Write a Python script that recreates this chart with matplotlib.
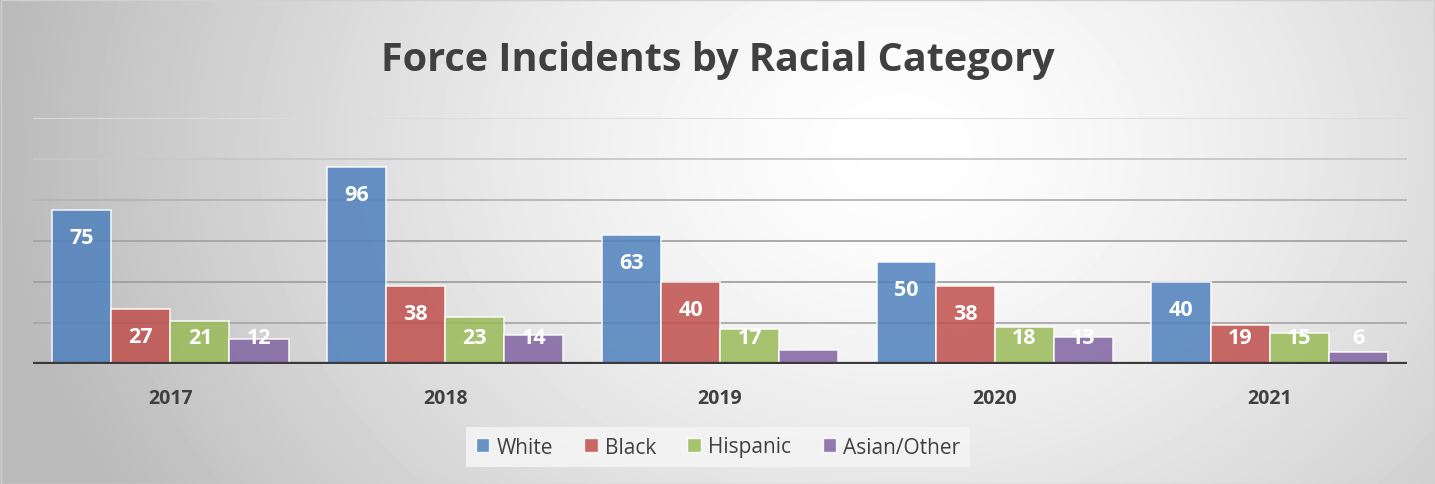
#!/usr/bin/env python3
import numpy as np
import matplotlib
matplotlib.use('Agg')
import matplotlib.pyplot as plt
from matplotlib.patches import Patch


YEARS = ['2017', '2018', '2019', '2020', '2021']
WHITE = [75, 96, 63, 50, 40]
BLACK = [27, 38, 40, 38, 19]
HISPANIC = [21, 23, 17, 18, 15]
ASIAN_OTHER = [12, 14, 7, 13, 6]
SHOW_LABEL = [[True] * 5, [True] * 5, [True] * 5, [True, True, False, True, True]]

SERIES = ['White', 'Black', 'Hispanic', 'Asian/Other']
COLORS = ['#4F81BD', '#C0504D', '#9BBB59', '#8064A2']
TEXT = '#404040'

plt.rcParams['font.family'] = ['Open Sans', 'DejaVu Sans']


def background(fig):
    bg = fig.add_axes([0, 0, 1, 1], zorder=-10)
    h, w = 485, 1435
    yy, xx = np.mgrid[0:h, 0:w]
    r = np.sqrt(((xx - 900) / 900.0) ** 2 + ((yy - 150) / 700.0) ** 2)
    val = 1.0 - 0.27 * np.clip(r, 0, 1) ** 1.4
    bg.imshow(val, cmap='gray', vmin=0, vmax=1, aspect='auto', extent=(0, 1, 0, 1))
    bg.add_patch(plt.Rectangle((0.0005, 0.001), 0.999, 0.997, fill=False,
                               edgecolor='#d0d0d0', lw=1, transform=bg.transAxes))
    bg.axis('off')


def main():
    fig = plt.figure(figsize=(14.35, 4.85), dpi=100)
    background(fig)

    ax = fig.add_axes([33 / 1435, 1 - 365 / 485, (1407 - 33) / 1435, (365 - 119) / 485])
    ax.set_facecolor('none')
    for s in ax.spines.values():
        s.set_visible(False)

    values = [WHITE, BLACK, HISPANIC, ASIAN_OTHER]
    x = np.arange(len(YEARS))
    width = 0.215
    offsets = (np.arange(4) - 1.5) * width

    grid_colors = ['#a8a8a8', '#a0a0a0', '#a4a4a4', '#b4b4b4', '#c8c8c8', '#dcdcdc']
    for gy, gc in zip(range(20, 121, 20), grid_colors):
        ax.axhline(gy, color=gc, lw=1.3, zorder=1)

    for i, (vals, color) in enumerate(zip(values, COLORS)):
        ax.bar(x + offsets[i], vals, width, color=color, alpha=0.85,
               edgecolor=(1, 1, 1, 0.45), lw=1.2, zorder=2, label=SERIES[i])
        for j, v in enumerate(vals):
            if SHOW_LABEL[i][j]:
                ax.text(x[j] + offsets[i], max(v - 13.5, 13), str(v), ha='center', va='center',
                        color='white', fontsize=15.5, fontweight='bold', zorder=3)

    ax.axhline(0, color='#3a3a3a', lw=3.8, zorder=4)
    ax.set_xlim(-0.5, len(YEARS) - 0.5)
    ax.set_ylim(0, 120)
    ax.set_yticks([])
    ax.set_xticks(x)
    ax.set_xticklabels(YEARS, fontsize=14, fontweight='bold', color=TEXT)
    ax.tick_params(axis='x', length=0, pad=17)

    fig.text(718 / 1435, 1 - 60 / 485, 'Force Incidents by Racial Category', ha='center', va='center',
             fontsize=28.5, fontweight='bold', color=TEXT)

    handles = [Patch(facecolor=c, alpha=0.85, edgecolor=(1, 1, 1, 0.5)) for c in COLORS]
    leg = fig.legend(handles, SERIES, loc='center', bbox_to_anchor=(718 / 1435, 1 - 448 / 485),
                     ncol=4, frameon=True, fontsize=15, handlelength=0.65, handleheight=0.65,
                     handletextpad=0.35, columnspacing=1.5, borderpad=0.45, fancybox=False)
    leg.get_frame().set_facecolor('#f4f4f4')
    leg.get_frame().set_edgecolor('none')
    leg.get_frame().set_alpha(0.9)
    for t in leg.get_texts():
        t.set_color(TEXT)

    fig.savefig('out.png', dpi=100)


if __name__ == '__main__':
    main()
